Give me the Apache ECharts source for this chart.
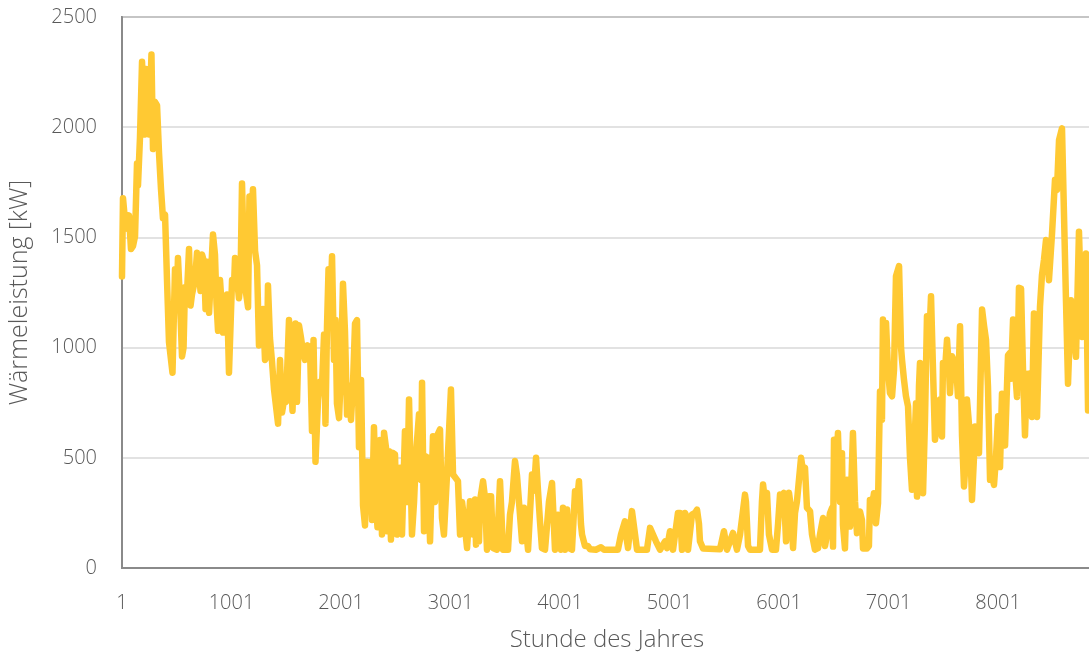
<!DOCTYPE html>
<html><head><meta charset="utf-8">
<script src="https://cdn.jsdelivr.net/npm/echarts@6/dist/echarts.min.js"></script>
<style>html,body{margin:0;padding:0;background:#fff}#c{width:1089px;height:655px}</style>
</head><body><div id="c"></div>
<script>
// Stunde des Jahres (hour of year) and heat load in kW
const hours = [
1,10,28,47,65,83,101,120,138,147,
165,184,202,211,220,238,248,270,284,302,
321,339,357,375,394,412,430,448,462,485,
503,512,531,549,563,576,595,613,627,640,
668,686,704,718,732,750,764,777,796,832,
850,864,878,896,910,923,942,960,978,1006,
1024,1033,1051,1069,1083,1097,1115,1133,1152,1165,
1179,1197,1216,1234,1252,1270,1289,1307,1325,1334,
1352,1371,1389,1407,1426,1444,1462,1480,1499,1526,
1544,1558,1572,1585,1599,1617,1636,1654,1672,1695,
1718,1736,1750,1768,1791,1809,1827,1846,1859,1873,
1887,1905,1919,1937,1951,1964,1983,2001,2019,2037,
2056,2074,2092,2110,2129,2147,2165,2184,2202,2220,
2238,2257,2270,2284,2302,2320,2334,2357,2366,2375,
2394,2412,2421,2439,2457,2471,2494,2512,2540,2558,
2585,2604,2622,2649,2668,2686,2713,2731,2741,2759,
2768,2795,2814,2841,2859,2877,2905,2923,2941,2969,
3005,3024,3042,3069,3088,3106,3124,3152,3179,3206,
3225,3234,3252,3261,3270,3298,3316,3334,3352,3371,
3389,3425,3453,3480,3526,3544,3562,3590,3608,3626,
3654,3672,3709,3745,3763,3782,3800,3818,3836,3864,
3900,3928,3955,3983,4010,4028,4046,4065,4083,4110,
4138,4156,4174,4192,4202,4229,4256,4275,4329,4375,
4403,4530,4558,4594,4604,4622,4658,4686,4704,4795,
4823,4850,4878,4914,4960,4978,5005,5024,5033,5078,
5097,5115,5142,5151,5170,5206,5234,5252,5270,5279,
5307,5462,5498,5508,5526,5581,5599,5617,5645,5672,
5690,5699,5718,5736,5827,5845,5855,5873,5891,5909,
5937,5973,5992,6010,6028,6046,6065,6092,6110,6129,
6147,6165,6183,6202,6220,6238,6256,6284,6302,6329,
6357,6375,6403,6421,6439,6466,6485,6494,6503,6521,
6539,6558,6576,6585,6603,6621,6640,6649,6676,6695,
6713,6731,6740,6758,6768,6804,6822,6831,6850,6868,
6886,6905,6923,6941,6950,6969,6978,6996,7014,7033,
7051,7069,7097,7115,7124,7142,7160,7179,7197,7215,
7233,7252,7261,7279,7288,7307,7316,7334,7352,7370,
7389,7407,7425,7443,7471,7489,7498,7517,7535,7553,
7562,7581,7608,7626,7635,7654,7672,7690,7708,7717,
7745,7763,7781,7791,7809,7827,7855,7873,7891,7909,
7928,7946,7964,7982,8001,8019,8037,8046,8065,8092,
8110,8119,8138,8147,8156,8174,8192,8211,8229,8247,
8265,8284,8311,8329,8357,8384,8402,8421,8439,8466,
8494,8521,8539,8558,8585,8603,8622,8640,8667,8686,
8713,8740,8768,8804,8823
];
const kW = [
1323,1678,1580,1540,1600,1447,1460,1505,1835,1736,
1950,2297,2000,1967,2264,2050,1967,2330,1901,2115,
2099,1884,1720,1587,1604,1307,1026,1030,886,1356,
1250,1406,1208,960,1000,1274,1250,1447,1191,1241,
1307,1430,1350,1257,1422,1389,1175,1389,1158,1513,
1422,1200,1076,1307,1200,1068,1150,1241,886,1307,
1280,1406,1406,1224,1300,1744,1373,1250,1183,1686,
1500,1719,1439,1373,1010,1020,1175,944,960,1282,
1043,936,812,820,655,944,705,760,754,1125,
900,713,944,1109,754,1101,1043,980,944,1010,
1000,622,1035,482,762,845,820,1059,655,1092,
1356,1200,1414,944,1125,746,680,900,1290,1076,
696,828,672,828,1109,1125,548,853,284,193,
482,350,482,218,639,300,185,581,560,152,
614,545,167,530,129,523,515,152,455,152,
621,300,765,152,300,515,697,400,841,167,
508,500,121,598,300,598,629,227,152,424,
810,424,424,394,152,300,227,91,303,152,
311,106,273,121,303,394,318,83,326,326,
91,83,394,83,83,242,300,485,420,424,
121,273,83,424,350,500,350,212,90,83,
300,386,83,242,83,273,83,265,90,83,
348,300,394,200,152,100,100,85,83,94,
83,83,152,212,150,91,258,152,83,83,
182,152,120,83,121,90,167,160,83,250,
250,83,250,240,83,242,250,265,200,121,
88,85,167,160,83,159,150,83,152,260,
333,300,100,83,83,300,379,300,341,152,
83,83,200,333,300,341,121,341,273,91,
250,303,400,500,440,455,273,258,152,83,
90,152,227,100,150,248,273,97,582,400,
612,300,521,195,89,400,300,188,612,300,
158,200,256,218,89,89,100,309,280,339,
203,294,801,673,1127,1000,1112,900,794,779,
900,1324,1370,1000,945,855,780,733,500,355,
500,748,324,824,930,700,339,673,1142,1000,
1233,900,582,650,764,597,930,900,1036,900,
794,961,930,850,779,1097,600,370,500,764,
597,309,500,642,550,521,1173,1100,1036,824,
400,420,377,500,688,458,791,794,556,965,
976,859,1127,1124,900,776,1271,1268,897,602,
880,882,685,1155,685,1185,1329,1400,1488,1306,
1518,1761,1715,1942,1995,1609,1200,836,1215,1100,
958,1526,1048,1427,715
];
const xTickLabels = [1,1001,2001,3001,4001,5001,6001,7001,8001];
const yTickValues = [0,500,1000,1500,2000,2500];

if (hours.length !== kW.length) console.error('length mismatch', hours.length, kW.length);
const n = Math.min(hours.length, kW.length);
const seriesData = [];
for (let i = 0; i < n; i++) seriesData.push([hours[i], kW[i]]);

const FONT = '"Open Sans", "Noto Sans", sans-serif';
const plain = v => String(Math.round(v));
const chart = echarts.init(document.getElementById('c'), null, {renderer: 'canvas'});
chart.setOption({
  animation: false,
  backgroundColor: '#ffffff',
  grid: {left: 122, right: -3, top: 17, bottom: 87, show: true, borderColor: '#8a8a8a', borderWidth: 2,
         containLabel: false, outerBoundsMode: 'none'},
  xAxis: {
    type: 'value', min: 1, max: 8859,
    name: 'Stunde des Jahres', nameLocation: 'middle', nameGap: 60,
    nameTextStyle: {color: '#595959', fontSize: 24, fontFamily: FONT, fontWeight: 300},
    axisLine: {show: true, lineStyle: {color: '#8a8a8a', width: 2}},
    axisTick: {show: false},
    splitLine: {show: false},
    axisLabel: {customValues: xTickLabels, formatter: plain, color: '#595959', fontSize: 20, fontFamily: FONT, fontWeight: 300, margin: 25}
  },
  yAxis: {
    type: 'value', min: yTickValues[0], max: yTickValues[yTickValues.length - 1], interval: 500,
    name: 'Wärmeleistung [kW]', nameLocation: 'middle', nameGap: 90,
    nameTextStyle: {color: '#595959', fontSize: 25, fontFamily: FONT, fontWeight: 300},
    axisLine: {show: true, lineStyle: {color: '#8a8a8a', width: 2}},
    axisTick: {show: false},
    splitLine: {show: true, lineStyle: {color: '#d9d9d9', width: 1.5}},
    axisLabel: {formatter: plain, color: '#595959', fontSize: 20, fontFamily: FONT, fontWeight: 300, margin: 25}
  },
  series: [{
    type: 'line', data: seriesData, showSymbol: false, symbol: 'none',
    lineStyle: {color: '#FFC933', width: 6.5, cap: 'round', join: 'round'},
    itemStyle: {color: '#FFC933'}
  }]
});
</script></body></html>
